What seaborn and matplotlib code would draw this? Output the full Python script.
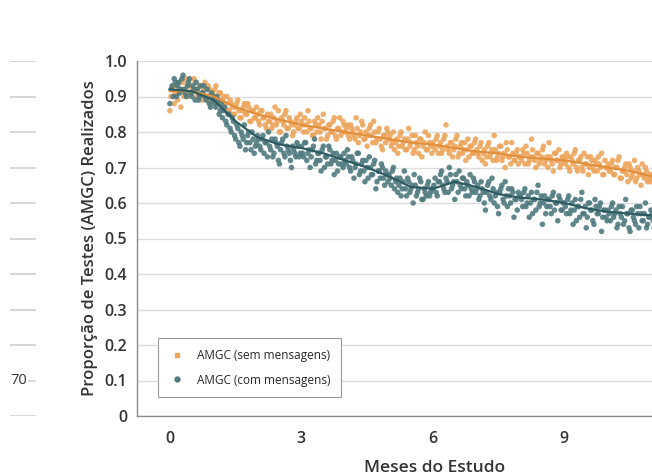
import numpy as np
import pandas as pd
import matplotlib
matplotlib.use("Agg")
import matplotlib.pyplot as plt
import matplotlib.transforms as mtransforms
import seaborn as sns

# adherence values, two readings per 0.05 months (set a and set b, offset by 0.025)
sem_mensagens_a = [
    0.86, 0.92, 0.88, 0.93, 0.91, 0.87, 0.94, 0.92, 0.90, 0.93, 0.91, 0.95, 0.92, 0.90, 0.93, 0.91, 0.94, 0.89, 0.92, 0.91,
    0.90, 0.93, 0.88, 0.91, 0.89, 0.87, 0.90, 0.86, 0.88, 0.85, 0.87, 0.89, 0.84, 0.86, 0.88, 0.85, 0.87, 0.83, 0.86, 0.84,
    0.85, 0.82, 0.86, 0.84, 0.81, 0.83, 0.85, 0.82, 0.87, 0.83, 0.80, 0.84, 0.82, 0.86, 0.81, 0.83, 0.79, 0.82, 0.84, 0.81,
    0.83, 0.80, 0.82, 0.86, 0.81, 0.79, 0.83, 0.80, 0.82, 0.78, 0.85, 0.81, 0.79, 0.82, 0.80, 0.84, 0.78, 0.81, 0.79, 0.83,
    0.80, 0.82, 0.78, 0.81, 0.79, 0.84, 0.77, 0.80, 0.82, 0.78, 0.76, 0.81, 0.79, 0.83, 0.77, 0.80, 0.78, 0.75, 0.79, 0.81,
    0.78, 0.76, 0.80, 0.77, 0.74, 0.79, 0.76, 0.78, 0.75, 0.81, 0.77, 0.74, 0.79, 0.76, 0.78, 0.73, 0.77, 0.75, 0.79, 0.76,
    0.77, 0.75, 0.79, 0.76, 0.74, 0.78, 0.82, 0.75, 0.77, 0.73, 0.76, 0.79, 0.74, 0.77, 0.75, 0.72, 0.78, 0.76, 0.74, 0.77,
    0.75, 0.73, 0.77, 0.74, 0.71, 0.76, 0.73, 0.75, 0.79, 0.72, 0.74, 0.76, 0.73, 0.70, 0.75, 0.73, 0.77, 0.72, 0.74, 0.71,
    0.73, 0.75, 0.71, 0.74, 0.72, 0.78, 0.73, 0.70, 0.74, 0.72, 0.75, 0.71, 0.73, 0.77, 0.72, 0.69, 0.74, 0.72, 0.70, 0.73,
    0.72, 0.74, 0.70, 0.73, 0.71, 0.75, 0.69, 0.72, 0.70, 0.74, 0.71, 0.68, 0.73, 0.70, 0.72, 0.69, 0.71, 0.74, 0.68, 0.70,
    0.71, 0.69, 0.72, 0.68, 0.70, 0.73, 0.67, 0.69, 0.71, 0.66, 0.70, 0.68, 0.72, 0.67, 0.69, 0.65, 0.68, 0.70, 0.66, 0.68,
    0.67, 0.69, 0.66, 0.68,
]
sem_mensagens_b = [
    0.90, 0.93, 0.91, 0.89, 0.94, 0.92, 0.90, 0.95, 0.93, 0.91, 0.92, 0.94, 0.90, 0.93, 0.89, 0.92, 0.90, 0.93, 0.88, 0.91,
    0.92, 0.89, 0.91, 0.87, 0.90, 0.88, 0.86, 0.89, 0.87, 0.85, 0.88, 0.86, 0.84, 0.87, 0.85, 0.88, 0.83, 0.86, 0.84, 0.87,
    0.83, 0.86, 0.84, 0.82, 0.85, 0.83, 0.81, 0.84, 0.82, 0.86, 0.80, 0.83, 0.85, 0.81, 0.84, 0.82, 0.80, 0.83, 0.81, 0.85,
    0.82, 0.84, 0.80, 0.83, 0.81, 0.79, 0.82, 0.84, 0.80, 0.83, 0.81, 0.78, 0.82, 0.80, 0.83, 0.79, 0.81, 0.84, 0.80, 0.82,
    0.81, 0.79, 0.82, 0.80, 0.78, 0.81, 0.79, 0.83, 0.78, 0.80, 0.79, 0.82, 0.77, 0.80, 0.78, 0.81, 0.76, 0.79, 0.77, 0.80,
    0.79, 0.77, 0.75, 0.78, 0.76, 0.80, 0.77, 0.75, 0.78, 0.76, 0.79, 0.75, 0.77, 0.74, 0.78, 0.76, 0.80, 0.75, 0.77, 0.74,
    0.76, 0.78, 0.74, 0.77, 0.75, 0.79, 0.76, 0.74, 0.77, 0.75, 0.78, 0.73, 0.76, 0.74, 0.77, 0.75, 0.73, 0.76, 0.74, 0.78,
    0.74, 0.76, 0.72, 0.75, 0.73, 0.77, 0.74, 0.72, 0.75, 0.73, 0.76, 0.72, 0.74, 0.77, 0.73, 0.71, 0.74, 0.72, 0.75, 0.73,
    0.72, 0.74, 0.76, 0.71, 0.73, 0.75, 0.72, 0.74, 0.71, 0.73, 0.76, 0.72, 0.70, 0.73, 0.71, 0.74, 0.72, 0.75, 0.71, 0.73,
    0.71, 0.73, 0.69, 0.72, 0.74, 0.70, 0.72, 0.73, 0.69, 0.71, 0.73, 0.70, 0.72, 0.69, 0.71, 0.73, 0.70, 0.68, 0.72, 0.70,
    0.69, 0.71, 0.68, 0.70, 0.72, 0.67, 0.69, 0.70, 0.68, 0.71, 0.67, 0.69, 0.66, 0.70, 0.68, 0.71, 0.67, 0.69, 0.67, 0.66,
    0.68, 0.70, 0.67, 0.69,
]
com_mensagens_a = [
    0.88, 0.93, 0.95, 0.90, 0.94, 0.92, 0.96, 0.91, 0.93, 0.95, 0.90, 0.92, 0.94, 0.89, 0.93, 0.91, 0.90, 0.92, 0.88, 0.91,
    0.90, 0.87, 0.89, 0.86, 0.84, 0.87, 0.82, 0.85, 0.80, 0.83, 0.78, 0.81, 0.76, 0.79, 0.82, 0.77, 0.80, 0.75, 0.78, 0.76,
    0.79, 0.76, 0.78, 0.74, 0.77, 0.80, 0.75, 0.73, 0.78, 0.76, 0.71, 0.77, 0.74, 0.79, 0.75, 0.72, 0.76, 0.74, 0.77, 0.73,
    0.76, 0.73, 0.77, 0.74, 0.70, 0.75, 0.78, 0.72, 0.74, 0.69, 0.76, 0.73, 0.71, 0.75, 0.72, 0.68, 0.74, 0.71, 0.73, 0.70,
    0.72, 0.75, 0.70, 0.73, 0.67, 0.71, 0.74, 0.69, 0.72, 0.66, 0.70, 0.73, 0.68, 0.71, 0.64, 0.69, 0.67, 0.70, 0.65, 0.68,
    0.68, 0.65, 0.70, 0.66, 0.63, 0.67, 0.64, 0.69, 0.62, 0.66, 0.64, 0.60, 0.65, 0.63, 0.67, 0.61, 0.64, 0.62, 0.66, 0.63,
    0.64, 0.67, 0.62, 0.66, 0.69, 0.64, 0.67, 0.63, 0.68, 0.65, 0.61, 0.66, 0.69, 0.64, 0.67, 0.62, 0.65, 0.68, 0.63, 0.66,
    0.64, 0.61, 0.66, 0.63, 0.58, 0.65, 0.62, 0.67, 0.60, 0.63, 0.57, 0.64, 0.61, 0.66, 0.59, 0.62, 0.64, 0.56, 0.61, 0.63,
    0.62, 0.59, 0.64, 0.60, 0.56, 0.63, 0.61, 0.58, 0.65, 0.60, 0.54, 0.62, 0.59, 0.61, 0.57, 0.63, 0.60, 0.55, 0.61, 0.58,
    0.60, 0.57, 0.62, 0.58, 0.54, 0.61, 0.59, 0.56, 0.63, 0.57, 0.53, 0.60, 0.58, 0.55, 0.61, 0.57, 0.59, 0.52, 0.58, 0.56,
    0.58, 0.55, 0.60, 0.57, 0.53, 0.59, 0.56, 0.54, 0.61, 0.57, 0.52, 0.58, 0.55, 0.59, 0.53, 0.57, 0.55, 0.60, 0.54, 0.56,
    0.57, 0.53, 0.58, 0.55,
]
com_mensagens_b = [
    0.92, 0.90, 0.94, 0.93, 0.91, 0.95, 0.92, 0.90, 0.94, 0.91, 0.93, 0.89, 0.92, 0.90, 0.91, 0.93, 0.89, 0.90, 0.87, 0.89,
    0.88, 0.90, 0.85, 0.88, 0.86, 0.83, 0.85, 0.81, 0.84, 0.79, 0.82, 0.77, 0.80, 0.78, 0.75, 0.79, 0.77, 0.80, 0.74, 0.77,
    0.78, 0.75, 0.79, 0.77, 0.73, 0.76, 0.78, 0.74, 0.77, 0.72, 0.75, 0.78, 0.73, 0.76, 0.74, 0.70, 0.75, 0.73, 0.76, 0.74,
    0.74, 0.77, 0.72, 0.75, 0.73, 0.76, 0.71, 0.74, 0.72, 0.75, 0.70, 0.73, 0.76, 0.71, 0.74, 0.72, 0.69, 0.73, 0.71, 0.74,
    0.71, 0.73, 0.69, 0.72, 0.70, 0.74, 0.68, 0.71, 0.69, 0.72, 0.67, 0.70, 0.68, 0.72, 0.66, 0.69, 0.71, 0.67, 0.69, 0.66,
    0.67, 0.69, 0.64, 0.67, 0.65, 0.62, 0.66, 0.64, 0.67, 0.63, 0.65, 0.68, 0.62, 0.64, 0.66, 0.61, 0.63, 0.65, 0.62, 0.64,
    0.65, 0.63, 0.66, 0.68, 0.65, 0.63, 0.66, 0.70, 0.64, 0.66, 0.68, 0.63, 0.65, 0.67, 0.64, 0.66, 0.62, 0.64, 0.67, 0.63,
    0.65, 0.62, 0.64, 0.60, 0.63, 0.66, 0.61, 0.64, 0.62, 0.59, 0.63, 0.65, 0.60, 0.62, 0.64, 0.60, 0.63, 0.61, 0.58, 0.62,
    0.61, 0.63, 0.59, 0.62, 0.60, 0.57, 0.61, 0.63, 0.59, 0.62, 0.60, 0.57, 0.61, 0.59, 0.62, 0.58, 0.60, 0.62, 0.58, 0.60,
    0.59, 0.61, 0.57, 0.60, 0.58, 0.55, 0.59, 0.61, 0.57, 0.59, 0.56, 0.60, 0.58, 0.54, 0.59, 0.57, 0.60, 0.56, 0.58, 0.55,
    0.57, 0.59, 0.56, 0.58, 0.54, 0.57, 0.59, 0.55, 0.57, 0.53, 0.58, 0.56, 0.54, 0.57, 0.59, 0.55, 0.57, 0.53, 0.56, 0.58,
    0.55, 0.57, 0.54, 0.56,
]
month_a = np.round(np.arange(len(sem_mensagens_a)) * 0.05, 3)
month_b = month_a + 0.025

# smoothed trend lines
trend_month = [0, 0.5, 1, 1.5, 2, 2.5, 3, 3.5, 4, 4.5, 5, 5.5, 6, 6.5, 7, 7.5, 8, 8.5, 9, 9.5, 10, 10.5, 11, 11.2]
trend_sem = [0.915, 0.915, 0.90, 0.87, 0.85, 0.835, 0.82, 0.81, 0.80, 0.79, 0.78, 0.77, 0.765, 0.755, 0.745, 0.74,
             0.73, 0.725, 0.72, 0.71, 0.70, 0.69, 0.675, 0.67]
trend_com = [0.92, 0.915, 0.89, 0.83, 0.785, 0.765, 0.755, 0.74, 0.72, 0.70, 0.675, 0.645, 0.64, 0.66, 0.645, 0.625,
             0.615, 0.61, 0.60, 0.585, 0.575, 0.57, 0.565, 0.56]

y_ticks = [0, 0.1, 0.2, 0.3, 0.4, 0.5, 0.6, 0.7, 0.8, 0.9, 1.0]
y_tick_labels = ["0", "0.1", "0.2", "0.3", "0.4", "0.5", "0.6", "0.7", "0.8", "0.9", "1.0"]
x_ticks = [0, 3, 6, 9]

lbl_sem = "AMGC (sem mensagens)"
lbl_com = "AMGC (com mensagens)"
c_sem, c_sem_line = "#EDA55C", "#E28E3A"
c_com, c_com_line = "#4F7A7E", "#2C5B61"

sns.set_theme(style="white")
plt.rcParams["font.family"] = ["Open Sans", "DejaVu Sans"]

points = pd.concat([
    pd.DataFrame({"mes": month_a, "prop": sem_mensagens_a, "grupo": lbl_sem}),
    pd.DataFrame({"mes": month_b, "prop": sem_mensagens_b, "grupo": lbl_sem}),
    pd.DataFrame({"mes": month_a, "prop": com_mensagens_a, "grupo": lbl_com}),
    pd.DataFrame({"mes": month_b, "prop": com_mensagens_b, "grupo": lbl_com}),
])
trends = pd.concat([
    pd.DataFrame({"mes": trend_month, "prop": trend_sem, "grupo": lbl_sem}),
    pd.DataFrame({"mes": trend_month, "prop": trend_com, "grupo": lbl_com}),
])

fig = plt.figure(figsize=(6.52, 4.76), dpi=100)
W, H = 652, 476
ax = fig.add_axes([137 / W, 60 / H, 515 / W, 355 / H])

sns.scatterplot(data=points, x="mes", y="prop", hue="grupo",
                palette={lbl_sem: c_sem, lbl_com: c_com},
                s=16, linewidth=0, alpha=0.9, ax=ax, legend=False, zorder=3)
sns.lineplot(data=trends, x="mes", y="prop", hue="grupo",
             palette={lbl_sem: c_sem_line, lbl_com: c_com_line},
             linewidth=1.6, ax=ax, legend=False, zorder=4)

ax.set_xlim(-0.75, 11.0)
ax.set_ylim(0, 1.0)
ax.set_yticks(y_ticks)
ax.set_yticklabels(y_tick_labels)
ax.set_xticks(x_ticks)
ax.grid(axis="y", color="#dcdcdc", linewidth=1)
ax.set_axisbelow(True)
for side in ["top", "right"]:
    ax.spines[side].set_visible(False)
for side in ["left", "bottom"]:
    ax.spines[side].set_color("#8a8a8a")
    ax.spines[side].set_linewidth(1)
ax.tick_params(axis="both", length=4, width=1, color="#aaaaaa", labelsize=11.5, labelcolor="#333333", direction="out")
for t in ax.get_xticklabels() + ax.get_yticklabels():
    t.set_fontweight("semibold")
ax.tick_params(axis="y", pad=3)
ax.tick_params(axis="x", pad=7)

ax.set_ylabel("Proporção de Testes (AMGC) Realizados", fontsize=12, fontweight="semibold", color="#333333", labelpad=5)
ax.set_xlabel("Meses do Estudo", fontsize=12.5, fontweight="semibold", color="#333333")
ax.xaxis.set_label_coords((435 - 137) / 515, -0.125)

handles = [
    plt.Line2D([], [], marker="s", linestyle="", markersize=3.5, color=c_sem, label=lbl_sem),
    plt.Line2D([], [], marker="o", linestyle="", markersize=3.5, color=c_com, label=lbl_com),
]
leg = ax.legend(handles=handles, loc="lower left", bbox_to_anchor=(0.041, 0.053), borderaxespad=0,
                fontsize=8.5, frameon=True, fancybox=False, edgecolor="#999999", framealpha=1,
                borderpad=0.9, labelspacing=1.0, handletextpad=1.0, handlelength=1.4)
leg.get_frame().set_linewidth(0.8)

# fragment of the neighbouring panel on the left edge
ax_left = fig.add_axes([10 / W, 60 / H, 26 / W, 355 / H])
ax_left.set_ylim(0, 1.0)
ax_left.set_yticks(y_ticks)
ax_left.set_yticklabels([])
ax_left.set_xticks([])
ax_left.grid(axis="y", color="#cfcfcf", linewidth=1.2)
for s in ax_left.spines.values():
    s.set_visible(False)
ax_left.tick_params(axis="y", length=0)
trans = mtransforms.blended_transform_factory(ax_left.transAxes, ax_left.transData)
ax_left.text(0.0, 0.1, "70", transform=trans, ha="left", va="center", fontsize=10.5, color="#333333",
             bbox=dict(facecolor="white", edgecolor="none", pad=1))

fig.savefig("out.png", dpi=100)
